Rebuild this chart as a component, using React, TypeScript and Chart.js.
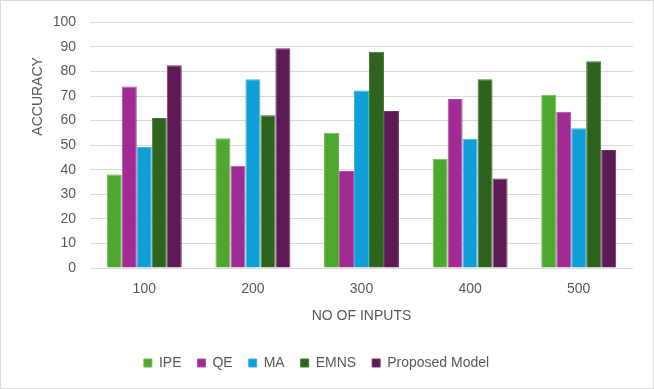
import React, { useEffect, useRef } from "react";
import { Chart, registerables } from "chart.js";

Chart.register(...registerables);

const categories = ["100", "200", "300", "400", "500"];
const seriesNames = ["IPE", "QE", "MA", "EMNS", "Proposed Model"];
const ipe = [38.1, 52.8, 55.1, 44.5, 70.5];
const qe = [73.9, 41.6, 39.5, 68.8, 63.6];
const ma = [49.3, 76.9, 72.3, 52.6, 56.9];
const emns = [61.1, 62.2, 88.0, 76.9, 84.2];
const proposed = [82.6, 89.5, 63.9, 36.4, 48.0];
const colors = ["#4EA72E", "#A02B93", "#0F9ED5", "#2E631D", "#5E1A54"];
const borderColors = ["#6cbc4f", "#b44fa8", "#3cb3e0", "#3f7a2c", "#73306a"];
const yTitle = "ACCURACY";
const xTitle = "NO OF INPUTS";

const FONT = "'Liberation Sans', Arial, sans-serif";
const TEXT = "#595959";

export default function App() {
  const ref = useRef<HTMLCanvasElement | null>(null);

  useEffect(() => {
    document.body.style.margin = "0";
    const canvas = ref.current;
    if (!canvas) return;
    const values = [ipe, qe, ma, emns, proposed];
    const yTitlePlugin = {
      id: "yTitlePlugin",
      afterDraw(chart: any) {
        const { ctx, chartArea } = chart;
        ctx.save();
        ctx.font = `14px ${FONT}`;
        ctx.fillStyle = TEXT;
        ctx.textAlign = "center";
        ctx.textBaseline = "middle";
        ctx.translate(38, chartArea.top + 74);
        ctx.rotate(-Math.PI / 2);
        ctx.fillText(yTitle, 0, 0);
        ctx.restore();
      },
    };
    const chart = new Chart(canvas, {
      type: "bar",
      data: {
        labels: categories,
        datasets: seriesNames.map((name, i) => ({
          label: name,
          data: values[i],
          backgroundColor: colors[i],
          borderColor: borderColors[i],
          borderWidth: 1,
          categoryPercentage: 0.69,
          barPercentage: 1,
        })),
      },
      options: {
        responsive: false,
        animation: false,
        layout: { padding: { left: 0, right: 21, top: 20, bottom: 9 } },
        plugins: {
          tooltip: { enabled: false },
          legend: {
            position: "bottom",
            labels: {
              boxWidth: 8,
              boxHeight: 8,
              padding: 16,
              color: TEXT,
              font: { family: FONT, size: 14 },
            },
          },
        },
        scales: {
          x: {
            grid: { display: false, drawTicks: false },
            border: { display: false },
            ticks: { color: TEXT, font: { family: FONT, size: 14 }, padding: 13 },
            title: {
              display: true,
              text: xTitle,
              color: TEXT,
              font: { family: FONT, size: 14 },
              padding: { top: 0, bottom: 15 },
            },
            afterFit(scale: any) {
              scale.height = 72;
            },
          },
          y: {
            min: 0,
            max: 100,
            ticks: { stepSize: 10, color: TEXT, font: { family: FONT, size: 14 }, padding: 14 },
            grid: { color: "#d9d9d9", drawTicks: false },
            border: { display: false },
            afterFit(scale: any) {
              scale.width = 90;
            },
          },
        },
      },
      plugins: [yTitlePlugin],
    } as any);
    return () => chart.destroy();
  }, []);

  return (
    <div style={{ position: "relative", width: 654, height: 389, background: "#fff" }}>
      <canvas ref={ref} width={654} height={389} style={{ display: "block" }} />
      <div
        style={{
          position: "absolute",
          left: 0,
          top: 0,
          width: 654,
          height: 389,
          boxSizing: "border-box",
          border: "1px solid #d9d9d9",
          pointerEvents: "none",
        }}
      />
    </div>
  );
}
